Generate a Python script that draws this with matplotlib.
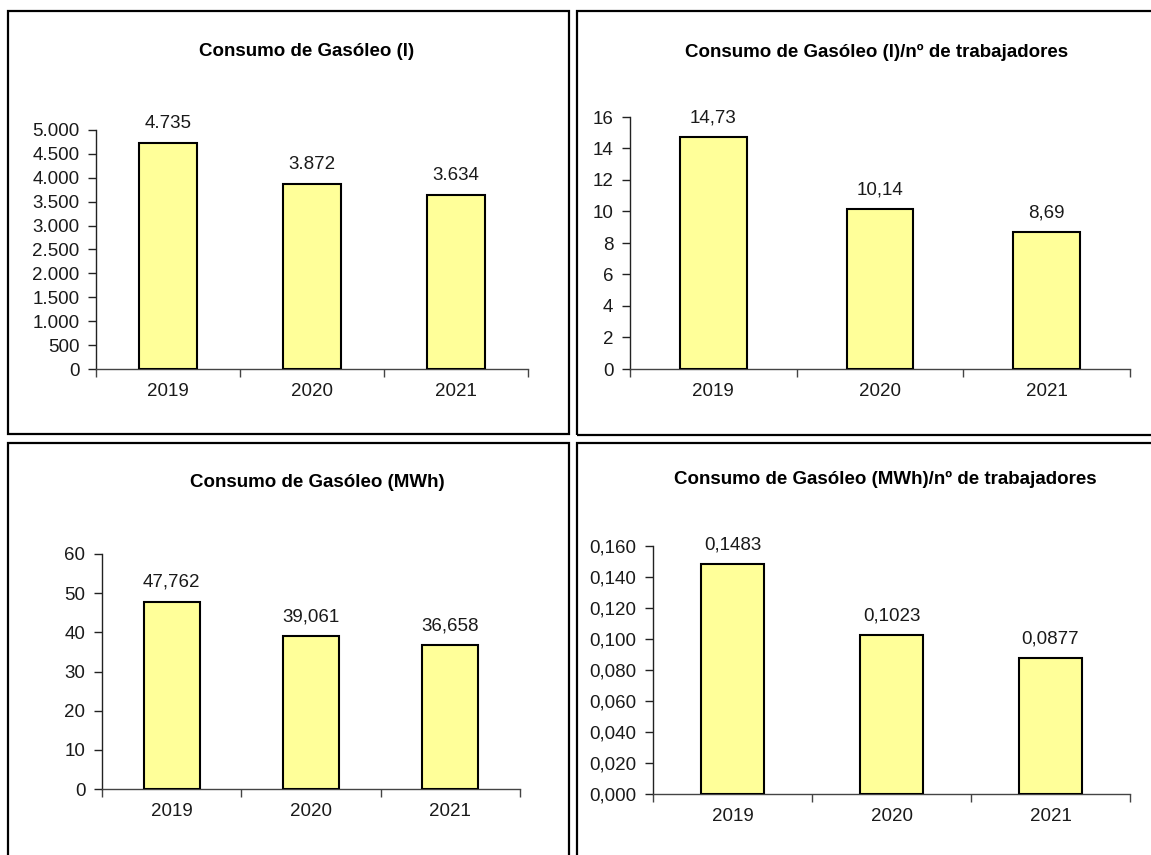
import matplotlib.pyplot as plt
from matplotlib.patches import Rectangle

plt.rcParams['font.family'] = ['Liberation Sans', 'DejaVu Sans']

years = ['2019', '2020', '2021']
litros = [4735, 3872, 3634]
litros_trab = [14.73, 10.14, 8.69]
mwh = [47.762, 39.061, 36.658]
mwh_trab = [0.1483, 0.1023, 0.0877]

titles = ['Consumo de Gasóleo (l)',
          'Consumo de Gasóleo (l)/nº de trabajadores',
          'Consumo de Gasóleo (MWh)',
          'Consumo de Gasóleo (MWh)/nº de trabajadores']


def es(v, dec):
    # spanish number format: '.' for thousands, ',' for decimals
    s = f'{v:,.{dec}f}'
    return s.replace(',', 'X').replace('.', ',').replace('X', '.')


W, H = 1151, 855
fig = plt.figure(figsize=(W / 100, H / 100), dpi=100)

# panel frames (pixels: x0, y0_top, x1, y1_bottom)
frames = [(8, 11, 569, 434), (577, 11, 1165, 435),
          (8, 443, 569, 870), (577, 443, 1165, 870)]
for x0, y0, x1, y1 in frames:
    fig.patches.append(Rectangle((x0 / W, 1 - y1 / H), (x1 - x0) / W, (y1 - y0) / H,
                                 transform=fig.transFigure, fill=False,
                                 edgecolor='black', linewidth=1.6))

# axes boxes in pixels: left, right, top(ymax), bottom(0)
boxes = [(96, 528, 130, 369), (630, 1130, 117, 369),
         (102, 520, 554, 789), (653, 1130, 546, 794)]
title_pos = [(307, 52), (877, 52), (317, 482), (885, 479)]
datas = [litros, litros_trab, mwh, mwh_trab]
ymaxs = [5000, 16, 60, 0.16]
ysteps = [500, 2, 10, 0.02]
tick_dec = [0, 0, 0, 3]
lab_dec = [0, 2, 3, 4]

txt = '#1a1a1a'
fs = 13.5
for i in range(4):
    l, r, t, b = boxes[i]
    ax = fig.add_axes([l / W, 1 - b / H, (r - l) / W, (b - t) / H])
    xs = [0.5, 1.5, 2.5]
    ax.bar(xs, datas[i], width=0.4, color='#ffff99', edgecolor='black', linewidth=1.5, zorder=3)
    ax.set_xlim(0, 3)
    ax.set_ylim(0, ymaxs[i])
    n = int(round(ymaxs[i] / ysteps[i]))
    yt = [k * ysteps[i] for k in range(n + 1)]
    ax.set_yticks(yt)
    ax.set_yticklabels([es(v, tick_dec[i]) for v in yt])
    ax.set_xticks([0, 1, 2, 3])
    ax.set_xticklabels([])
    ax.set_xticks(xs, minor=True)
    ax.set_xticklabels(years, minor=True)
    ax.tick_params(axis='x', which='major', direction='out', length=6, width=1, color='#444444')
    ax.tick_params(axis='x', which='minor', length=0, pad=10, labelsize=fs, labelcolor=txt)
    ax.tick_params(axis='y', direction='out', length=6, width=1, pad=6,
                   labelsize=fs, labelcolor=txt, color='#222222')
    for s in ['top', 'right']:
        ax.spines[s].set_visible(False)
    ax.spines['left'].set_linewidth(1)
    ax.spines['left'].set_color('#222222')
    ax.spines['bottom'].set_linewidth(1)
    ax.spines['bottom'].set_color('#444444')
    for x, v in zip(xs, datas[i]):
        ax.annotate(es(v, lab_dec[i]), (x, v), xytext=(0, 14), textcoords='offset points',
                    ha='center', va='center', fontsize=fs, color=txt)
    tx, ty = title_pos[i]
    fig.text(tx / W, 1 - ty / H, titles[i], ha='center', va='center',
             fontsize=13.5, fontweight='bold', color='black')

fig.savefig('out.png', dpi=100)
